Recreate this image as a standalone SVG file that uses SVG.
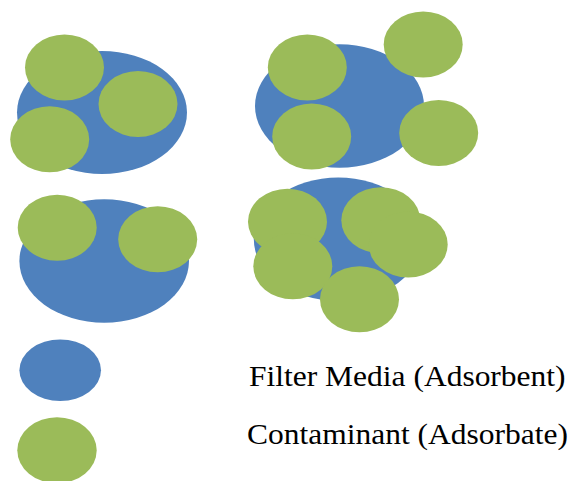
<svg xmlns="http://www.w3.org/2000/svg" width="574" height="481" viewBox="0 0 574 481">
<style>
.media{fill:#4F81BD}
.cont{fill:#9BBB59}
.lbl{font-family:"Liberation Serif","Times New Roman",serif;font-size:31.5px;fill:#000}
</style>
<rect width="574" height="481" fill="#fff"/>
<g id="cluster-top-left">
<ellipse class="media" cx="102" cy="112.5" rx="85" ry="61.5"/>
<ellipse class="cont" cx="64.5" cy="67.5" rx="39.5" ry="33"/>
<ellipse class="cont" cx="138" cy="104" rx="39.5" ry="33"/>
<ellipse class="cont" cx="49.7" cy="139.3" rx="39.5" ry="33"/>
</g>
<g id="cluster-top-right">
<ellipse class="media" cx="339.5" cy="106" rx="84.5" ry="61.7"/>
<ellipse class="cont" cx="307.3" cy="67.5" rx="39.5" ry="33"/>
<ellipse class="cont" cx="423.2" cy="44.5" rx="39.5" ry="33"/>
<ellipse class="cont" cx="311.7" cy="136.5" rx="39.5" ry="33"/>
<ellipse class="cont" cx="438.7" cy="133" rx="39.5" ry="33"/>
</g>
<g id="cluster-mid-left">
<ellipse class="media" cx="104.2" cy="261" rx="84.8" ry="61.7"/>
<ellipse class="cont" cx="57.2" cy="227.7" rx="39.5" ry="33"/>
<ellipse class="cont" cx="157.7" cy="239.3" rx="39.5" ry="33"/>
</g>
<g id="cluster-mid-right">
<ellipse class="media" cx="338.3" cy="239.3" rx="84.5" ry="61.7"/>
<ellipse class="cont" cx="287.5" cy="221.7" rx="39.5" ry="33"/>
<ellipse class="cont" cx="380.8" cy="220.3" rx="39.5" ry="33"/>
<ellipse class="cont" cx="408.2" cy="244.5" rx="39.5" ry="33"/>
<ellipse class="cont" cx="292.8" cy="266.3" rx="39.5" ry="33"/>
<ellipse class="cont" cx="359.5" cy="299.3" rx="39.5" ry="33"/>
</g>
<g id="legend-media">
<ellipse class="media" cx="60.2" cy="370.2" rx="40.8" ry="30.8"/>
<text class="lbl" transform="translate(249,386) scale(1,0.93)">Filter Media (Adsorbent)</text>
</g>
<g id="legend-contaminant">
<ellipse class="cont" cx="57" cy="450.3" rx="39.7" ry="33"/>
<text class="lbl" transform="translate(247,444.3) scale(1,0.93)">Contaminant (Adsorbate)</text>
</g>
<g id="connectors"/>
</svg>
